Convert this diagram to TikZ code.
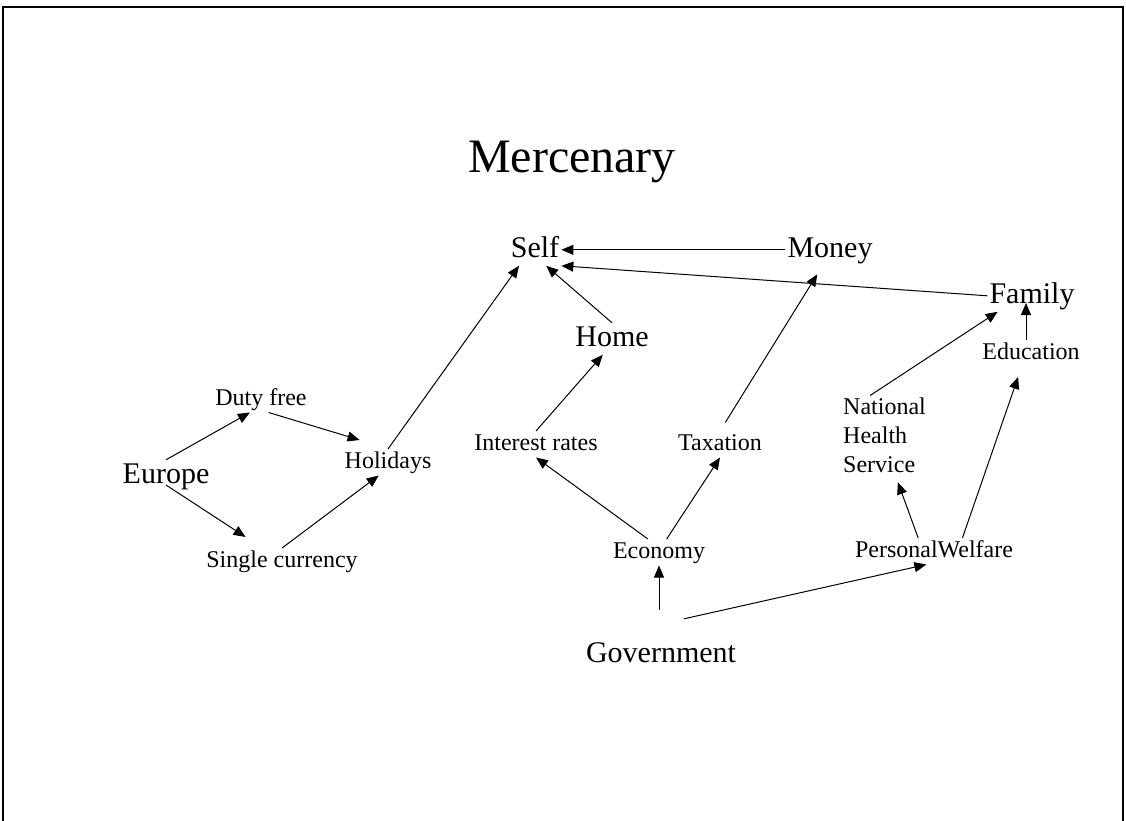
\documentclass[tikz,border=0pt]{standalone}
\usepackage{fontspec}
\setmainfont{Liberation Serif}
\usetikzlibrary{arrows.meta}

\begin{document}
\begin{tikzpicture}[x=1pt, y=-1pt,
    lbl/.style={inner sep=2pt},
    big/.style={lbl, anchor=base, font=\fontsize{30}{36}\selectfont, text height=21pt, text depth=6.6pt},
    small/.style={lbl, anchor=base, font=\fontsize{24}{29}\selectfont, text height=16.8pt, text depth=5.3pt},
    arr/.style={line width=1pt, -{Triangle[length=12pt,width=10pt]}}]
            \useasboundingbox (0,0) rectangle (1126,821);
            \draw[line width=2pt] (2.5,821) -- (2.5,7) -- (1122.5,7) -- (1122.5,821);

            \node[lbl, anchor=base, font=\fontsize{48}{58}\selectfont] at (572,172) (title) {Mercenary};

            \node[big] at (535,257)   (self) {Self};
            \node[big] at (830,257)   (mon) {Money};
            \node[big] at (1032,303)  (fam) {Family};
            \node[big] at (612,346)   (home) {Home};
            \node[big] at (166,483)   (eur) {Europe};
            \node[big] at (661,662)   (gov) {Government};

            \node[small] at (1031,359) (edu) {Education};
            \node[small] at (261,405)  (duty) {Duty free};
            \node[small] at (388,468)  (hol) {Holidays};
            \node[small] at (282,567)  (sing) {Single currency};
            \node[small] at (536,450)  (int) {Interest rates};
            \node[small] at (720,450)  (tax) {Taxation};
            \node[small] at (659,558)  (eco) {Economy};
            \node[small] at (934,557)  (pw) {PersonalWelfare};
            \node[lbl, anchor=north west, align=left, font=\fontsize{24}{29}\selectfont] at (841,395.5) (nhs) {National\\Health\\Service};

            \draw[arr] (mon.west) -- (self.east);
            \draw[arr] (fam.west) -- (self.south east);
            \draw[arr] (home.north) -- (self.-55);
            \draw[arr] (hol.north) -- (self.-135);
            \draw[arr, shorten <=10pt, shorten >=10pt] (tax.north) -- (mon.-115);
            \draw[arr] (int.north) -- (home.-120);
            \draw[arr] (eco.130) -- (int.south);
            \draw[arr] (eco.60) -- (tax.south);
            \draw[arr, shorten <=29pt] (gov.north -| eco.south) -- (eco.south);
            \draw[arr] ([xshift=23pt,yshift=20pt]gov.north) -- (pw.-120);
            \draw[arr, shorten >=8pt] (pw.140) -- (nhs.-75);
            \draw[arr, shorten >=11pt] (pw.25) -- (edu.-125);
            \draw[arr] (nhs.110) -- (fam.-155);
            \draw[arr] ([xshift=-5pt]edu.north) -- ([xshift=-6pt]fam.base);
            \draw[arr] (eur.north) -- (duty.-130);
            \draw[arr] (duty.-60) -- ([yshift=9pt]hol.155);
            \draw[arr] ([yshift=-2pt]eur.base) -- ([yshift=11pt]sing.160);
            \draw[arr] (sing.north) -- (hol.-125);

        \end{tikzpicture}
\end{document}
